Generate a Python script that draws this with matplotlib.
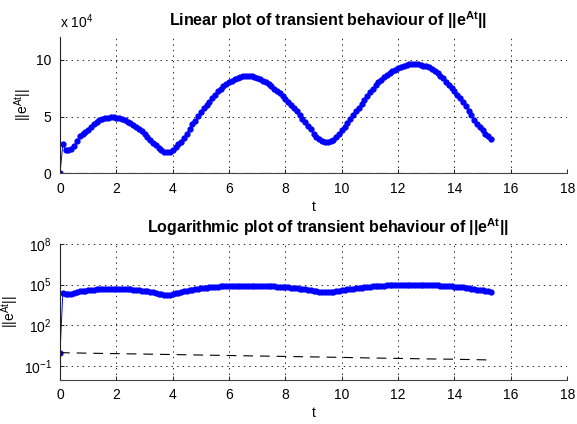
import matplotlib
matplotlib.use('Agg')
import matplotlib.pyplot as plt
import numpy as np

plt.rcParams['font.family'] = ['Liberation Sans', 'DejaVu Sans']
plt.rcParams['mathtext.fontset'] = 'custom'
plt.rcParams['mathtext.rm'] = 'Liberation Sans'
plt.rcParams['mathtext.it'] = 'Liberation Sans:italic'
plt.rcParams['mathtext.bf'] = 'Liberation Sans:bold'
plt.rcParams['lines.scale_dashes'] = False

# ||e^{At}|| in units of 1e4, sampled every 0.1 from t=0 to t=15.3
norm_vals = [
    0.0001, 2.55, 2.10, 2.05, 2.12, 2.45, 2.85, 3.30, 3.50, 3.67,
    3.85, 4.05, 4.30, 4.50, 4.67, 4.76, 4.84, 4.89, 4.92, 4.92,
    4.90, 4.83, 4.75, 4.66, 4.55, 4.42, 4.25, 4.10, 3.90, 3.70,
    3.47, 3.22, 2.95, 2.70, 2.46, 2.22, 2.02, 1.88, 1.84, 1.88,
    2.05, 2.30, 2.55, 2.80, 3.15, 3.50, 3.92, 4.30, 4.65, 5.02,
    5.40, 5.72, 6.03, 6.32, 6.62, 6.93, 7.20, 7.44, 7.66, 7.84,
    8.02, 8.16, 8.30, 8.40, 8.48, 8.54, 8.57, 8.58, 8.56, 8.50,
    8.42, 8.30, 8.16, 8.00, 7.83, 7.66, 7.44, 7.23, 7.05, 6.82,
    6.58, 6.30, 6.02, 5.75, 5.45, 5.13, 4.80, 4.48, 4.16, 3.86,
    3.50, 3.20, 3.00, 2.88, 2.78, 2.72, 2.82, 2.98, 3.22, 3.50,
    3.80, 4.12, 4.42, 4.80, 5.15, 5.45, 5.78, 6.12, 6.45, 6.82,
    7.15, 7.45, 7.75, 8.02, 8.25, 8.48, 8.67, 8.84, 9.00, 9.12,
    9.24, 9.36, 9.46, 9.54, 9.59, 9.62, 9.62, 9.58, 9.52, 9.47,
    9.42, 9.32, 9.16, 8.98, 8.80, 8.60, 8.35, 8.05, 7.75, 7.48,
    7.20, 6.92, 6.65, 6.30, 5.92, 5.50, 5.10, 4.70, 4.38, 4.08,
    3.78, 3.50, 3.25, 3.00,
]
t = np.linspace(0, 15.3, len(norm_vals))
norm = np.array(norm_vals) * 1e4

# dashed bound curve
bound_t = [0, 1, 2, 3, 4, 5, 6, 7, 8, 9, 10, 11, 12, 13, 14, 15, 15.3]
bound_vals = [1.0, 0.92, 0.85, 0.79, 0.73, 0.67, 0.62, 0.57, 0.53, 0.49,
              0.45, 0.41, 0.38, 0.35, 0.33, 0.30, 0.29]

xticks = [0, 2, 4, 6, 8, 10, 12, 14, 16, 18]

fig = plt.figure(figsize=(5.77, 4.24), dpi=100)
ax1 = fig.add_axes([0.104, 0.591, 0.879, 0.322])
ax2 = fig.add_axes([0.104, 0.104, 0.879, 0.321])

grid_style = dict(color='k', linestyle=(0, (1, 3)), linewidth=0.6)


def style(ax):
    ax.spines['top'].set_visible(False)
    ax.spines['right'].set_visible(False)
    ax.spines['left'].set_color('#222222')
    ax.spines['bottom'].set_color('#444444')
    ax.tick_params(direction='in', length=3, labelsize=10, width=0.6, pad=6)
    ax.grid(True, **grid_style)
    ax.set_xlim(0, 18)
    ax.set_xticks(xticks)
    ax.set_xlabel('t', fontsize=10, labelpad=3)
    ax.set_ylabel(r'$\mathrm{||e^{At}||}$', fontsize=10, labelpad=2)


# linear plot
ax1.plot(t, norm / 1e4, '-o', color='b', lw=0.7, ms=3.5, mec='b', mfc='b')
ax1.plot(bound_t, np.array(bound_vals) / 1e4, color='k', lw=0.8, linestyle=(0, (7, 5)))
style(ax1)
ax1.set_ylim(0, 12)
ax1.set_yticks([0, 5, 10])
ax1.set_title(r'Linear plot of transient behaviour of $\mathbf{||e^{At}||}$',
              fontsize=11.5, fontweight='bold', pad=8, x=0.528)
ax1.text(0.0, 1.04, r'x 10$^{4}$', transform=ax1.transAxes, fontsize=10,
         ha='left', va='bottom')

# logarithmic plot
ax2.semilogy(t, norm, '-o', color='b', lw=0.7, ms=3.5, mec='b', mfc='b')
ax2.semilogy(bound_t, bound_vals, color='k', lw=0.8, linestyle=(0, (7, 5)))
style(ax2)
ax2.set_ylim(1e-2, 1e8)
ax2.set_yticks([1e-1, 1e2, 1e5, 1e8])
ax2.yaxis.set_minor_locator(matplotlib.ticker.NullLocator())
ax2.set_title(r'Logarithmic plot of transient behaviour of $\mathbf{||e^{At}||}$',
              fontsize=11.5, fontweight='bold', pad=8, x=0.528)

fig.savefig('out.png', dpi=100)
